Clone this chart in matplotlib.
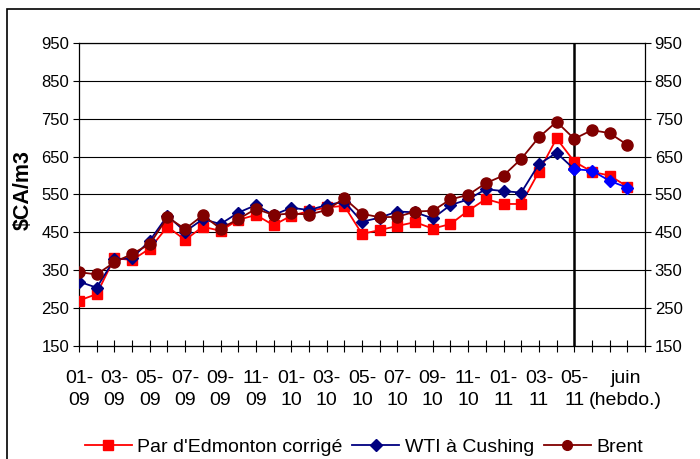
import matplotlib
matplotlib.use("Agg")
import matplotlib.pyplot as plt
from matplotlib.patches import Rectangle
from matplotlib.lines import Line2D

plt.rcParams['font.family'] = ['Liberation Sans', 'DejaVu Sans']

# Monthly 01-09 .. 05-11 (29 values) then weekly June values (3)
edmonton = [270, 287, 382, 377, 407, 465, 430, 465, 454, 483, 496, 469,
            494, 506, 516, 520, 446, 456, 467, 477, 460, 472, 507, 538,
            525, 525, 610, 698, 637, 610, 600, 571]
wti = [320, 304, 379, 382, 428, 494, 452, 485, 472, 502, 522, 496,
       515, 509, 522, 531, 478, 489, 505, 503, 487, 522, 537, 564,
       559, 555, 630, 660, 617, 613, 586, 568]
brent = [345, 339, 371, 393, 419, 490, 459, 495, 460, 485, 512, 496,
         500, 497, 509, 540, 499, 490, 491, 505, 507, 537, 549, 580,
         600, 644, 701, 742, 697, 720, 712, 681]

n_month = 29
tick_labels = ['01-\n09', '03-\n09', '05-\n09', '07-\n09', '09-\n09', '11-\n09',
               '01-\n10', '03-\n10', '05-\n10', '07-\n10', '09-\n10', '11-\n10',
               '01-\n11', '03-\n11', '05-\n11']
tick_pos = list(range(0, 29, 2))
weekly_label = 'juin\n(hebdo.)'
weekly_label_pos = 30.9
yticks = [150, 250, 350, 450, 550, 650, 750, 850, 950]

RED = '#FF0000'
NAVY = '#000080'
BLUE = '#0000FF'
BROWN = '#800000'

fig = plt.figure(figsize=(7.0, 4.59), dpi=100)
ax = fig.add_axes([79/700, 1-346/459, (645-79)/700, (346-43)/459])

x = list(range(len(brent)))
fs = 12
fsx = 14

ax.plot(x, edmonton, color=RED, lw=1.3, marker='s', ms=7, mec=RED, mfc=RED, zorder=3)
ax.plot(x[:n_month], wti[:n_month], color=NAVY, lw=1.3, marker='D', ms=6, mec=NAVY, mfc=NAVY, zorder=4)
ax.plot(x[n_month-1:], wti[n_month-1:], color=BLUE, lw=1.3, marker='D', ms=6, mec=BLUE, mfc=BLUE, zorder=4)
ax.plot(x, brent, color=BROWN, lw=1.3, marker='o', ms=8, mec=BROWN, mfc=BROWN, zorder=5)

ax.axvline(n_month-1, color='black', lw=1.8, zorder=2)

ax.set_xlim(0, 32)
ax.set_ylim(150, 950)
ax.set_yticks(yticks)
ax.set_yticklabels([str(v) for v in yticks], fontsize=fs)
ax.tick_params(axis='y', which='both', direction='out', length=4, width=0.8,
               left=True, right=True, labelleft=True, labelright=True, pad=3)
for v in yticks:
    ax.axhline(v, color='black', lw=0.8, zorder=1)

ax.set_xticks(range(0, 33))
ax.set_xticklabels([''] * 33)
ax.tick_params(axis='x', direction='inout', length=8, width=0.8)
for p, lab in zip(tick_pos, tick_labels):
    ax.text(p, -0.08, lab, transform=ax.get_xaxis_transform(), ha='center', va='top',
            fontsize=fsx, linespacing=1.4)
ax.text(weekly_label_pos, -0.08, weekly_label, transform=ax.get_xaxis_transform(),
        ha='center', va='top', fontsize=fsx, linespacing=1.4)

for s in ax.spines.values():
    s.set_color('black')
    s.set_linewidth(0.9)

fig.text(23/700, 1-190/459, '$CA/m3', rotation=90, ha='center', va='center',
         fontsize=15.5, fontweight='bold')

handles = [Line2D([], [], color=RED, lw=1.3, marker='s', ms=7),
           Line2D([], [], color=NAVY, lw=1.3, marker='D', ms=6),
           Line2D([], [], color=BROWN, lw=1.3, marker='o', ms=7)]
labels = ["Par d'Edmonton corrigé", 'WTI à Cushing', 'Brent']
fig.legend(handles, labels, loc='center', bbox_to_anchor=(364/700, 1-447/459), ncol=3,
           frameon=False, fontsize=fsx, handlelength=2.4, columnspacing=0.5,
           handletextpad=0.3, borderpad=0)

fig.patches.append(Rectangle((7/700, -0.1), 1.2, 1.1 - 9/459, transform=fig.transFigure,
                             fill=False, edgecolor='black', lw=1.2))

fig.savefig('out.png', dpi=100)
